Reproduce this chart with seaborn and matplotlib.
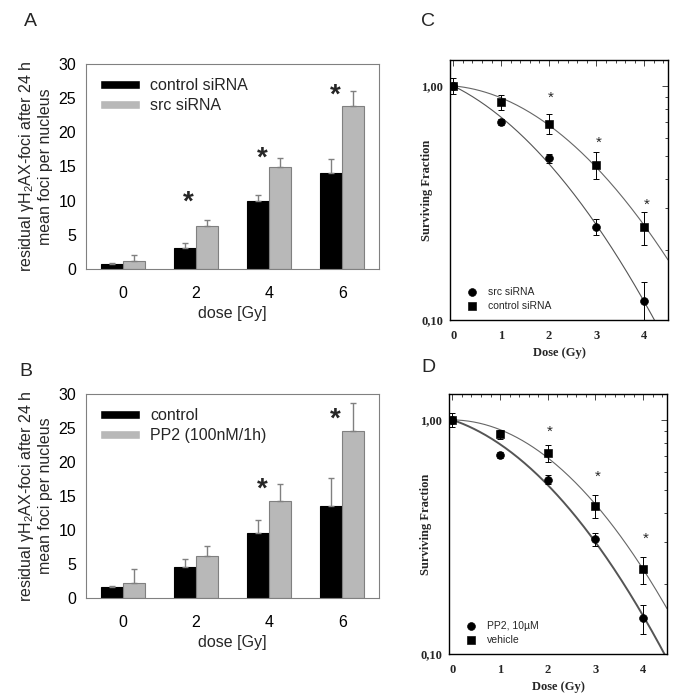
import numpy as np
import pandas as pd
import matplotlib
matplotlib.use('Agg')
import matplotlib.pyplot as plt
from matplotlib.ticker import MultipleLocator, NullFormatter, FixedLocator
import seaborn as sns

sns.set_style('white')
plt.rcParams['font.family'] = ['Liberation Sans', 'DejaVu Sans']
plt.rcParams['mathtext.fontset'] = 'custom'
plt.rcParams['mathtext.rm'] = 'Liberation Sans'
plt.rcParams['mathtext.it'] = 'Liberation Sans'

# ---- data: foci (panels A, B) ----
doses_foci = ['0', '2', '4', '6']

a_groups = ['control siRNA', 'src siRNA']
a_control = [0.8, 3.1, 10.0, 14.0]
a_control_err = [0.1, 0.7, 0.9, 2.1]
a_src = [1.2, 6.3, 15.0, 23.9]
a_src_err = [0.9, 0.8, 1.3, 2.1]
a_stars = [(1, 9.7), (2, 16.1), (3, 25.3)]

b_groups = ['control', 'PP2 (100nM/1h)']
b_control = [1.6, 4.6, 9.6, 13.6]
b_control_err = [0.15, 1.2, 1.8, 4.0]
b_pp2 = [2.2, 6.2, 14.2, 24.6]
b_pp2_err = [2.0, 1.5, 2.6, 4.1]
b_stars = [(2, 16.0), (3, 26.3)]

# ---- data: survival (panels C, D) ----
dose_surv = [0, 1, 2, 3, 4]

c_src = [1.0, 0.70, 0.49, 0.25, 0.12]
c_src_err = [0.0, 0.02, 0.02, 0.02, 0.025]
c_ctrl = [1.0, 0.85, 0.69, 0.46, 0.25]
c_ctrl_err = [0.08, 0.06, 0.07, 0.06, 0.04]
c_stars = [(2, 0.89), (3, 0.57), (4, 0.31)]

d_pp2 = [1.0, 0.71, 0.556, 0.31, 0.142]
d_pp2_err = [0.0, 0.02, 0.025, 0.02, 0.02]
d_veh = [1.0, 0.868, 0.72, 0.43, 0.23]
d_veh_err = [0.07, 0.04, 0.06, 0.05, 0.03]
d_stars = [(2, 0.89), (3, 0.57), (4, 0.31)]

BAR_BLACK = '#000000'
BAR_GRAY = '#b8b8b8'
EDGE_GRAY = '#808080'
SERIF = ['Liberation Serif', 'DejaVu Serif']
FS = 11.5

fig = plt.figure(figsize=(6.85, 6.99), dpi=100)

W, H = 685, 699


def px_axes(x0, y0, x1, y1):
    return fig.add_axes([x0 / W, 1 - y1 / H, (x1 - x0) / W, (y1 - y0) / H])


def foci_panel(ax, groups, v1, e1, v2, e2, stars):
    df = pd.DataFrame({
        'dose': doses_foci * 2,
        'group': [groups[0]] * 4 + [groups[1]] * 4,
        'value': v1 + v2,
    })
    sns.barplot(data=df, x='dose', y='value', hue='group',
                palette=[BAR_BLACK, BAR_GRAY], width=0.6, errorbar=None,
                saturation=1, ax=ax)
    for cont, errs, ec in zip(ax.containers, [e1, e2], [BAR_BLACK, EDGE_GRAY]):
        xs, ys = [], []
        for p in cont:
            p.set_edgecolor(ec)
            p.set_linewidth(0.8)
            xs.append(p.get_x() + p.get_width() / 2)
            ys.append(p.get_height())
        ax.errorbar(xs, ys, yerr=[np.zeros(len(errs)), errs], fmt='none',
                    ecolor=EDGE_GRAY, elinewidth=1, capsize=2.5, capthick=1)
    for x, y in stars:
        ax.text(x - 0.1, y, '*', fontsize=20, fontweight='bold',
                ha='center', va='center')
    ax.set_ylim(0, 30)
    ax.set_xlim(-0.5, 3.5)
    ax.set_yticks([0, 5, 10, 15, 20, 25, 30])
    ax.tick_params(axis='both', labelsize=FS, colors='black', length=4,
                   width=0.8, color=EDGE_GRAY, direction='out')
    ax.tick_params(axis='x', pad=8)
    ax.tick_params(axis='y', pad=3)
    for s in ax.spines.values():
        s.set_color(EDGE_GRAY)
        s.set_linewidth(0.8)
    ax.set_xlabel('dose [Gy]', fontsize=FS, labelpad=4)
    ax.set_ylabel('residual \u03b3H$_2$AX-foci after 24 h\nmean foci per nucleus',
                  fontsize=FS, labelpad=4)
    ax.legend(loc='upper left', frameon=False, fontsize=FS,
              handlelength=2.5, handleheight=0.45, borderaxespad=0.5,
              labelspacing=0.3, handletextpad=0.6)


def fit_curve(d, s, xmax):
    d = np.asarray(d, float)
    A = np.column_stack([d, d ** 2])
    coef, *_ = np.linalg.lstsq(A, -np.log(s), rcond=None)
    xx = np.linspace(0, xmax, 200)
    return xx, np.exp(-coef[0] * xx - coef[1] * xx ** 2)


def surv_panel(ax, s1, e1, l1, s2, e2, l2, stars, lw1=0.8):
    xmax = 4.5
    xx, yy = fit_curve(dose_surv, s1, xmax)
    sns.lineplot(x=xx, y=yy, color='#555555', lw=lw1, ax=ax, legend=False)
    xx, yy = fit_curve(dose_surv, s2, xmax)
    sns.lineplot(x=xx, y=yy, color='#666666', lw=0.8, ax=ax, legend=False)
    ax.errorbar(dose_surv, s1, yerr=e1, fmt='none', ecolor='black',
                elinewidth=0.7, capsize=2, capthick=0.7)
    ax.errorbar(dose_surv, s2, yerr=e2, fmt='none', ecolor='black',
                elinewidth=0.7, capsize=2, capthick=0.7)
    sns.scatterplot(x=dose_surv, y=s1, marker='o', s=32, color='black',
                    edgecolor='black', label=l1, ax=ax, zorder=3)
    sns.scatterplot(x=dose_surv, y=s2, marker='s', s=30, color='black',
                    edgecolor='black', label=l2, ax=ax, zorder=3)
    for x, y in stars:
        ax.text(x + 0.05, y, '*', fontsize=11, ha='center', va='center')
    ax.set_yscale('log')
    ax.set_ylim(0.1, 1.29)
    ax.set_xlim(-0.07, 4.5)
    ax.yaxis.set_major_locator(FixedLocator([0.1, 1.0]))
    ax.set_yticklabels(['0,10', '1,00'])
    ax.yaxis.set_minor_formatter(NullFormatter())
    ax.set_xticks([0, 1, 2, 3, 4])
    ax.xaxis.set_minor_locator(MultipleLocator(0.2))
    for lab in ax.get_xticklabels() + ax.get_yticklabels():
        lab.set_family(SERIF)
        lab.set_fontweight('bold')
        lab.set_fontsize(9)
    ax.tick_params(which='both', direction='in', top=True, right=True,
                   color='#444444', width=0.7)
    ax.tick_params(which='major', length=4)
    ax.tick_params(which='minor', length=2)
    ax.tick_params(axis='x', pad=7)
    ax.tick_params(axis='y', pad=5)
    for s in ax.spines.values():
        s.set_color('black')
        s.set_linewidth(1.0)
    ax.set_xlabel('Dose (Gy)', family=SERIF, fontweight='bold', fontsize=9,
                  labelpad=4)
    ax.set_ylabel('Surviving Fraction', family=SERIF, fontweight='bold',
                  fontsize=9)
    ax.yaxis.set_label_coords(-0.08, 0.5)
    ax.legend(loc='lower left', frameon=False, fontsize=7.5, handletextpad=0.9,
              labelspacing=0.35, borderaxespad=0.5, handlelength=1.2,
              bbox_to_anchor=(0.03, 0.0))


ax_a = px_axes(86, 64, 379, 269)
foci_panel(ax_a, a_groups, a_control, a_control_err, a_src, a_src_err, a_stars)

ax_b = px_axes(86, 394, 379, 598)
foci_panel(ax_b, b_groups, b_control, b_control_err, b_pp2, b_pp2_err, b_stars)

ax_c = px_axes(450, 60, 668, 320)
surv_panel(ax_c, c_src, c_src_err, 'src siRNA', c_ctrl, c_ctrl_err,
           'control siRNA', c_stars)

ax_d = px_axes(449, 394, 667, 654)
surv_panel(ax_d, d_pp2, d_pp2_err, 'PP2, 10\u00b5M', d_veh, d_veh_err,
           'vehicle', d_stars, lw1=1.4)

for lab, (x, y) in zip('ABCD', [(30, 22), (26, 372), (428, 22), (428, 367)]):
    fig.text(x / W, 1 - y / H, lab, fontsize=14, ha='center', va='center')

fig.savefig('out.png', dpi=100)
